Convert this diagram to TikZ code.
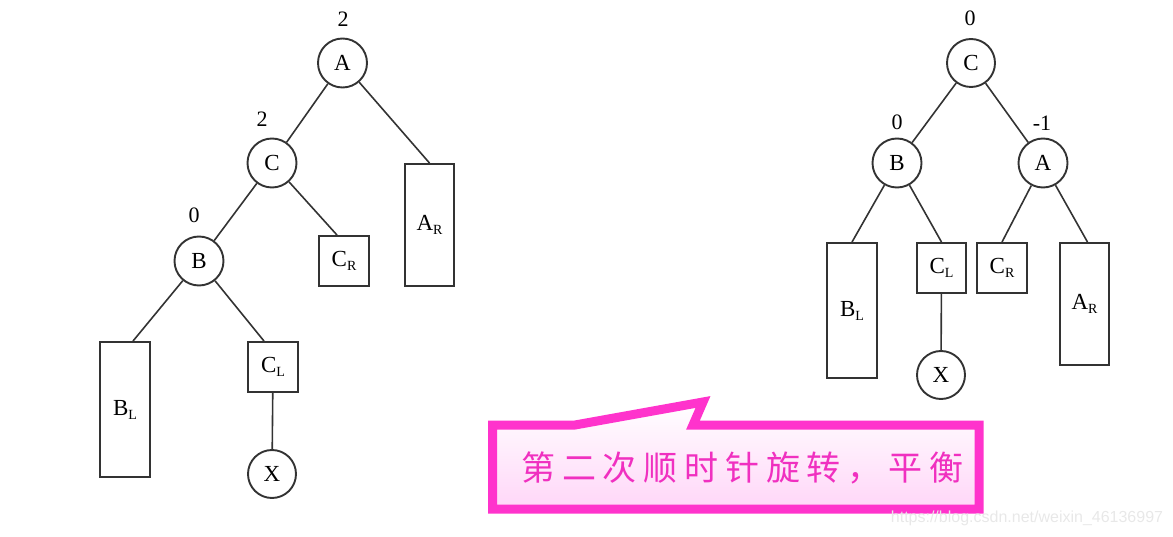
\documentclass[tikz,border=0pt]{standalone}
\usepackage{fontspec}
\setmainfont{Liberation Serif}
\newfontfamily\cjkfont{Noto Sans CJK SC}
\newfontfamily\wmfont{Liberation Sans}
\definecolor{framepink}{HTML}{FF33CC}
\definecolor{textpink}{HTML}{F030C0}
\definecolor{fillpink}{HTML}{FFD6F8}
\definecolor{linegray}{HTML}{333333}
\newcommand{\sbs}[1]{{\fontsize{14}{14}\selectfont\raisebox{-4pt}{#1}}}
\newcommand{\cs}{\hspace{6.8pt}}
\tikzset{
  treenode/.style={circle, draw=linegray, line width=1.9pt, minimum size=49pt, inner sep=0pt, font=\fontsize{23}{23}\selectfont},
  subtree/.style={rectangle, draw=linegray, line width=1.9pt, minimum width=50pt, inner sep=0pt, font=\fontsize{23}{23}\selectfont},
  bal/.style={font=\fontsize{22}{22}\selectfont, inner sep=0pt},
  edge/.style={draw=linegray, line width=1.6pt}
}
\begin{document}
\begin{tikzpicture}[x=1pt,y=-1pt]
\useasboundingbox (0,0) rectangle (1173,537);
% ---------- left tree ----------
\node[treenode] (lA) at (342.5,63) {A};
\node[bal] (lAb) at (343,19) {2};
\node[treenode] (lC) at (272,163) {C};
\node[bal] (lCb) at (262,119) {2};
\node[treenode] (lB) at (199,261) {B};
\node[bal] (lBb) at (194,215) {0};
\node[subtree, minimum height=50pt] (lCR) at (344,261) {C\sbs{R}};
\node[subtree, minimum height=122pt, minimum width=49pt] (lAR) at (429.5,225) {A\sbs{R}};
\node[subtree, minimum height=135pt] (lBL) at (125,409.5) {B\sbs{L}};
\node[subtree, minimum height=50pt] (lCL) at (273,367) {C\sbs{L}};
\node[treenode, minimum size=48pt] (lX) at (272,474) {X};
\draw[edge] (lA) -- (lC);
\draw[edge] (lA) -- (lAR.north);
\draw[edge] (lC) -- (lB);
\draw[edge] (lC) -- ([xshift=-7pt]lCR.north);
\draw[edge] (lB) -- ([xshift=8pt]lBL.north);
\draw[edge] (lB) -- ([xshift=-9pt]lCL.north);
\draw[edge] (lCL) -- (lX);
% ---------- right tree ----------
\node[treenode, minimum size=48pt] (rC) at (971,63) {C};
\node[bal] (rCb) at (970,18) {0};
\node[treenode] (rB) at (897,163) {B};
\node[bal] (rBb) at (897,122) {0};
\node[treenode] (rA) at (1043,163) {A};
\node[bal] (rAb) at (1042,123) {-1};
\node[subtree, minimum height=135pt] (rBL) at (852,310.5) {B\sbs{L}};
\node[subtree, minimum height=50pt, minimum width=49pt] (rCL) at (941.5,268) {C\sbs{L}};
\node[subtree, minimum height=50pt] (rCR) at (1002,268) {C\sbs{R}};
\node[subtree, minimum height=122pt, minimum width=49pt] (rAR) at (1084.5,304) {A\sbs{R}};
\node[treenode, minimum size=48pt] (rX) at (941,375) {X};
\draw[edge] (rC) -- (rB);
\draw[edge] (rC) -- (rA);
\draw[edge] (rB) -- (rBL.north);
\draw[edge] (rB) -- (rCL.north);
\draw[edge] (rA) -- (rCR.north);
\draw[edge] (rA) -- ([xshift=3pt]rAR.north);
\draw[edge] (rCL) -- (rX);
% ---------- callout ----------
\draw[framepink, line width=9pt, line join=miter, miter limit=20, top color=white, bottom color=fillpink]
  (492.5,425) -- (575,425) -- (703,402) -- (693,425) -- (979,425) -- (979,509) -- (492.5,509) -- cycle;
\node[text=textpink, font=\cjkfont\fontsize{34}{34}\selectfont, inner sep=0pt, anchor=west] (msg) at (521,468) {第\cs 二\cs 次\cs 顺\cs 时\cs 针\cs 旋\cs 转\cs ，\cs 平\cs 衡};
% ---------- watermark ----------
\node[text=black!9, font=\wmfont\fontsize{16}{16}\selectfont, inner sep=0pt] (wm) at (1027,518) {https://blog.csdn.net/weixin\_46136997};
\end{tikzpicture}
\end{document}
